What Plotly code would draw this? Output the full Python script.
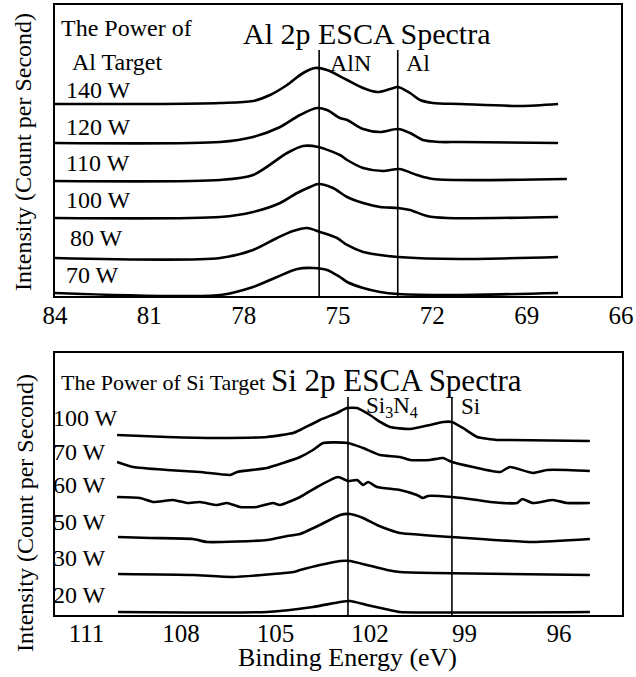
import plotly.graph_objects as go

FONT = "Liberation Serif"

# ---------------- Top panel: Al 2p ESCA spectra (binding energy eV, intensity a.u.)
al_labels = ["140 W", "120 W", "110 W", "100 W", "80 W", "70 W"]

al140_E = [84.0, 80.98, 78.75, 77.7, 77.16, 76.62, 76.11, 75.73, 75.35, 74.71, 74.2, 73.76,
           73.34, 73.09, 72.71, 72.39, 71.98, 71.12, 69.21, 68.0]
al140_I = [192, 192, 193, 195, 201, 211, 223, 228, 226, 216, 208, 204,
           207, 209, 203, 196, 193, 192, 190, 192]

al120_E = [84.0, 78.75, 77.7, 76.84, 76.21, 75.67, 75.35, 74.94, 74.71, 74.2, 73.66, 73.09,
           72.71, 72.3, 71.75, 71.12, 68.0]
al120_I = [153, 154, 159, 169, 181, 188, 186, 178, 176, 167, 164, 167,
           163, 156, 154, 154, 153]

al110_E = [84.0, 78.75, 77.7, 76.62, 76.11, 75.63, 74.94, 74.71, 74.2, 73.57, 73.05,
           72.49, 71.98, 67.72]
al110_I = [115, 116, 121, 143, 150, 149, 141, 136, 128, 125, 127, 121, 117, 117]

al100_E = [84.0, 78.75, 77.7, 76.84, 76.3, 75.89, 75.63, 75.16, 74.71, 74.2, 73.66, 73.09,
           72.71, 72.17, 71.53, 68.0]
al100_I = [78, 79, 84, 93, 103, 109, 112, 108, 99, 93, 89, 88, 86, 80, 78, 79]

al80_E = [84.0, 78.75, 77.7, 76.94, 76.43, 75.98, 75.57, 75.03, 74.71, 74.2, 73.66, 73.09,
          71.12, 68.0]
al80_I = [38, 38, 46, 58, 65, 68, 64, 58, 51, 44, 41, 39, 37, 39]

al70_E = [84.0, 78.75, 77.7, 76.94, 76.3, 75.79, 75.35, 74.94, 74.71, 74.2, 73.66, 73.09,
          71.12, 68.0]
al70_I = [3, 1, 9, 19, 27, 28, 26, 19, 14, 8, 4, 2, 1, 3]

al_ticks = [84, 81, 78, 75, 72, 69, 66]
al_ref_lines = {"AlN": 75.6, "Al": 73.1}

# ---------------- Bottom panel: Si 2p ESCA spectra
si_labels = ["100 W", "70 W", "60 W", "50 W", "30 W", "20 W"]

si100_E = [110.03, 108.44, 106.86, 105.27, 104.44, 104.22, 103.59, 103.05, 102.73, 102.41,
           102.0, 101.68, 101.37, 100.73, 100.1, 99.68, 99.4, 99.05, 98.6, 97.97, 97.56, 95.02]
si100_I = [180, 178, 177, 178, 182, 185, 195, 202, 207, 207,
           200, 193, 188, 186, 190, 193, 193, 187, 178, 175, 175, 174]

si70_E = [110.03, 109.52, 108.44, 107.4, 106.44, 106.22, 105.27, 104.76, 104.22, 103.81,
          103.49, 102.7, 102.22, 101.68, 101.05, 100.73, 100.1, 99.68, 99.4, 98.73, 97.87,
          97.56, 96.83, 96.38, 95.75, 95.02]
si70_I = [153, 148, 145, 143, 140, 143, 147, 152, 158, 165,
          172, 172, 167, 160, 158, 155, 155, 157, 153, 148, 143,
          148, 142, 145, 145, 144]

si60_E = [110.03, 109.3, 108.89, 108.25, 107.81, 107.4, 106.86, 106.54, 106.13, 105.59,
          105.08, 104.86, 104.22, 103.68, 103.02, 102.7, 102.41, 102.22, 102.06, 101.78,
          101.05, 100.51, 100.32, 100.16, 99.4, 98.6, 98.19, 97.33, 97.17, 96.83, 96.19,
          95.75, 95.02]
si60_I = [118, 117, 113, 115, 112, 113, 110, 112, 108, 108,
          112, 110, 118, 128, 138, 134, 135, 130, 133, 128,
          125, 120, 117, 119, 118, 115, 113, 112, 116, 112, 115,
          112, 112]

si50_E = [110.0, 108.98, 107.62, 107.17, 105.27, 104.63, 104.22, 103.59, 102.95, 102.63,
          102.22, 101.78, 101.37, 101.05, 98.92, 96.83, 95.02]
si50_I = [78, 77, 76, 73, 75, 79, 81, 90, 100, 101, 97, 90, 85, 82, 77, 73, 76]

si30_E = [110.0, 107.62, 106.35, 104.44, 104.22, 103.59, 102.95, 102.63, 102.1, 101.46,
          101.05, 100.0, 95.02]
si30_I = [41, 40, 38, 43, 45, 50, 54, 54, 50, 45, 43, 42, 40]

si20_E = [110.0, 105.27, 103.81, 102.95, 102.63, 102.1, 101.37, 101.05, 95.02]
si20_I = [3, 3, 8, 13, 14, 10, 5, 3, 3]

si_ticks = [111, 108, 105, 102, 99, 96]
si_ref_lines = {"Si3N4": 102.7, "Si": 99.4}

# ---------------- figure
fig = go.Figure()

al_series = [(al140_E, al140_I), (al120_E, al120_I), (al110_E, al110_I),
             (al100_E, al100_I), (al80_E, al80_I), (al70_E, al70_I)]
for (E, I), name in zip(al_series, al_labels):
    fig.add_trace(go.Scatter(x=E, y=I, mode="lines", name="Al " + name,
                             line=dict(color="black", width=2.6, shape="spline", smoothing=0.8),
                             xaxis="x", yaxis="y", showlegend=False))

si_series = [(si100_E, si100_I), (si70_E, si70_I), (si60_E, si60_I),
             (si50_E, si50_I), (si30_E, si30_I), (si20_E, si20_I)]
for (E, I), name in zip(si_series, si_labels):
    fig.add_trace(go.Scatter(x=E, y=I, mode="lines", name="Si " + name,
                             line=dict(color="black", width=2.6, shape="spline", smoothing=0.5),
                             xaxis="x2", yaxis="y2", showlegend=False))

# reference lines
for key in al_ref_lines:
    fig.add_shape(type="line", xref="x", yref="y", x0=al_ref_lines[key], x1=al_ref_lines[key],
                  y0=0, y1=246, line=dict(color="black", width=1.6))
for key in si_ref_lines:
    fig.add_shape(type="line", xref="x2", yref="y2", x0=si_ref_lines[key], x1=si_ref_lines[key],
                  y0=0, y1=218, line=dict(color="black", width=1.6))

ann = []
def txt(text, x, y, size, xref="x", yref="y", xanchor="left", yanchor="middle", angle=0,
        xshift=0):
    ann.append(dict(text=text, x=x, y=y, xref=xref, yref=yref, xanchor=xanchor,
                    yanchor=yanchor, showarrow=False, textangle=angle, xshift=xshift,
                    font=dict(family=FONT, size=size, color="black")))

# top panel texts
txt("The Power of", 83.88, 268, 24)
txt("Al Target", 83.53, 234, 24)
al_label_y = [206, 169, 133, 96, 58, 21]
al_label_x = [83.73, 83.73, 83.73, 83.73, 83.58, 83.73]
for t, lx, ly in zip(al_labels, al_label_x, al_label_y):
    txt(t, lx, ly, 24)
txt("Al 2p ESCA Spectra", 78.1, 263, 30)
txt("AlN", 75.31, 233, 24)
txt("Al", 72.9, 233, 24)

# bottom panel texts
txt("The Power of Si Target", 111.88, 232, 22, xref="x2", yref="y2")
txt("Si 2p ESCA Spectra", 105.2, 234, 31, xref="x2", yref="y2")
si_label_y = [197, 163, 130, 93, 57, 20]
for t, ly in zip(si_labels, si_label_y):
    txt(t, 111.99, ly, 24, xref="x2", yref="y2", xshift=-4)
txt("Si<sub>3</sub>N<sub>4</sub>", 102.2, 208, 23, xref="x2", yref="y2")
txt("Si", 99.18, 208, 23, xref="x2", yref="y2")

# axis titles
txt("Intensity (Count per Second)", 0.036, 0.7755, 24, xref="paper", yref="paper",
    xanchor="center", angle=-90)
txt("Intensity (Count per Second)", 0.039, 0.242, 24, xref="paper", yref="paper",
    xanchor="center", angle=-90)
txt("Binding Energy (eV)", 0.5456, 0.029, 26, xref="paper", yref="paper", xanchor="center")

axis_common = dict(showline=True, mirror=True, linecolor="black", linewidth=2,
                   showgrid=False, zeroline=False, automargin=False)

fig.update_layout(
    template="none",
    width=636, height=677, autosize=False,
    margin=dict(l=0, r=0, t=0, b=0, pad=0, autoexpand=False),
    paper_bgcolor="white", plot_bgcolor="white",
    showlegend=False,
    annotations=ann,
    xaxis=dict(domain=[0.0865, 0.9764], anchor="y", range=[84, 66], tickvals=al_ticks,
               ticks="", ticklabelstandoff=-4,
               tickfont=dict(family=FONT, size=25, color="black"), **axis_common),
    yaxis=dict(domain=[0.5628, 0.9926], anchor="x", range=[0, 291], showticklabels=False,
               ticks="", **axis_common),
    xaxis2=dict(domain=[0.0865, 0.978], anchor="y2", range=[112, 94], tickvals=si_ticks,
                ticks="", ticklabelstandoff=-5,
                tickfont=dict(family=FONT, size=25, color="black"), **axis_common),
    yaxis2=dict(domain=[0.0916, 0.4786], anchor="x2", range=[0, 262], showticklabels=False,
                ticks="", **axis_common),
)

# remove the page's default body margin so the 636x677 figure fills the window
fig.write_html("out.html",
               config={"displayModeBar": False},
               post_script="document.body.style.margin='0';"
                           "document.body.style.overflow='hidden';")
